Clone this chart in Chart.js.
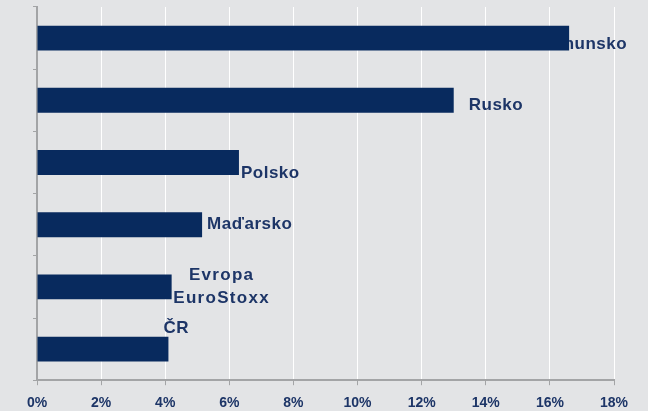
<!DOCTYPE html>
<html>
<head>
<meta charset="utf-8">
<script src="https://cdn.jsdelivr.net/npm/chart.js@4"></script>
<style>
  html, body { margin: 0; padding: 0; background: #e3e4e6; }
  #wrap { width: 648px; height: 411px; }
</style>
</head>
<body>
<div id="wrap"><canvas id="chart"></canvas></div>
<script>
// data
const zeme = ['Rumunsko', 'Rusko', 'Polsko', 'Maďarsko', 'Evropa EuroStoxx', 'ČR'];
const labelLines = [['Rumunsko'], ['Rusko'], ['Polsko'], ['Maďarsko'], ['Evropa', 'EuroStoxx'], ['ČR']];
const hodnoty = [16.6, 13.0, 6.3, 5.15, 4.2, 4.1];
const xTicks = [0, 2, 4, 6, 8, 10, 12, 14, 16, 18];

// label placement relative to bar end / bar centre (px)
const labelPos = [
    { dx: 58, dy: [10.5], align: 'right' },
    { dx: 15, dy: [10], align: 'left' },
    { dx: 2, dy: [15], align: 'left' },
    { dx: 5, dy: [4.5], align: 'left' },
    { dx: 50, dy: [-7, 16], align: 'center', spacing: 1.3 },
    { dx: -5, dy: [-16], align: 'left' }
];

const NAVY = '#082a5e';
const TEXT = '#1d3567';
const AXIS = '#a3a4a6';
const FONT = '"Liberation Sans Narrow", "Arial Narrow", sans-serif';

// popisky vedle sloupcu (pod sloupci, aby Rumunsko bylo zakryte)
const barLabels = {
    id: 'barLabels',
    beforeDatasetsDraw(chart) {
        const ctx = chart.ctx;
        const meta = chart.getDatasetMeta(0);
        ctx.save();
        ctx.fillStyle = TEXT;
        ctx.font = 'bold 17px ' + FONT;
        ctx.textBaseline = 'alphabetic';
        meta.data.forEach((bar, i) => {
            const p = labelPos[i];
            ctx.textAlign = p.align;
            ctx.letterSpacing = (p.spacing || 0.5) + 'px';
            labelLines[i].forEach((line, j) => {
                ctx.fillText(line, bar.x + p.dx, bar.y + p.dy[j]);
            });
        });
        ctx.restore();
    }
};

new Chart(document.getElementById('chart'), {
    type: 'bar',
    data: {
        labels: zeme,
        datasets: [{
            data: hodnoty,
            backgroundColor: NAVY,
            borderWidth: 0,
            barPercentage: 0.4,
            categoryPercentage: 1
        }]
    },
    options: {
        indexAxis: 'y',
        responsive: true,
        maintainAspectRatio: false,
        animation: false,
        layout: { padding: { left: 33, right: 34, top: 7, bottom: -11 } },
        plugins: {
            legend: { display: false },
            tooltip: { enabled: false }
        },
        scales: {
            x: {
                min: 0,
                max: 18,
                afterBuildTicks: (scale) => { scale.ticks = xTicks.map(v => ({ value: v })); },
                grid: { color: '#ffffff', lineWidth: 1, tickColor: AXIS, tickLength: 5 },
                border: { color: AXIS, width: 2 },
                ticks: {
                    padding: 10,
                    color: TEXT,
                    font: { family: FONT, size: 14, weight: 'bold' },
                    callback: v => v + '%'
                }
            },
            y: {
                grid: { drawOnChartArea: false, tickColor: AXIS, tickLength: 4 },
                border: { color: AXIS, width: 2 },
                ticks: { display: false }
            }
        }
    },
    plugins: [barLabels]
});
</script>
</body>
</html>
